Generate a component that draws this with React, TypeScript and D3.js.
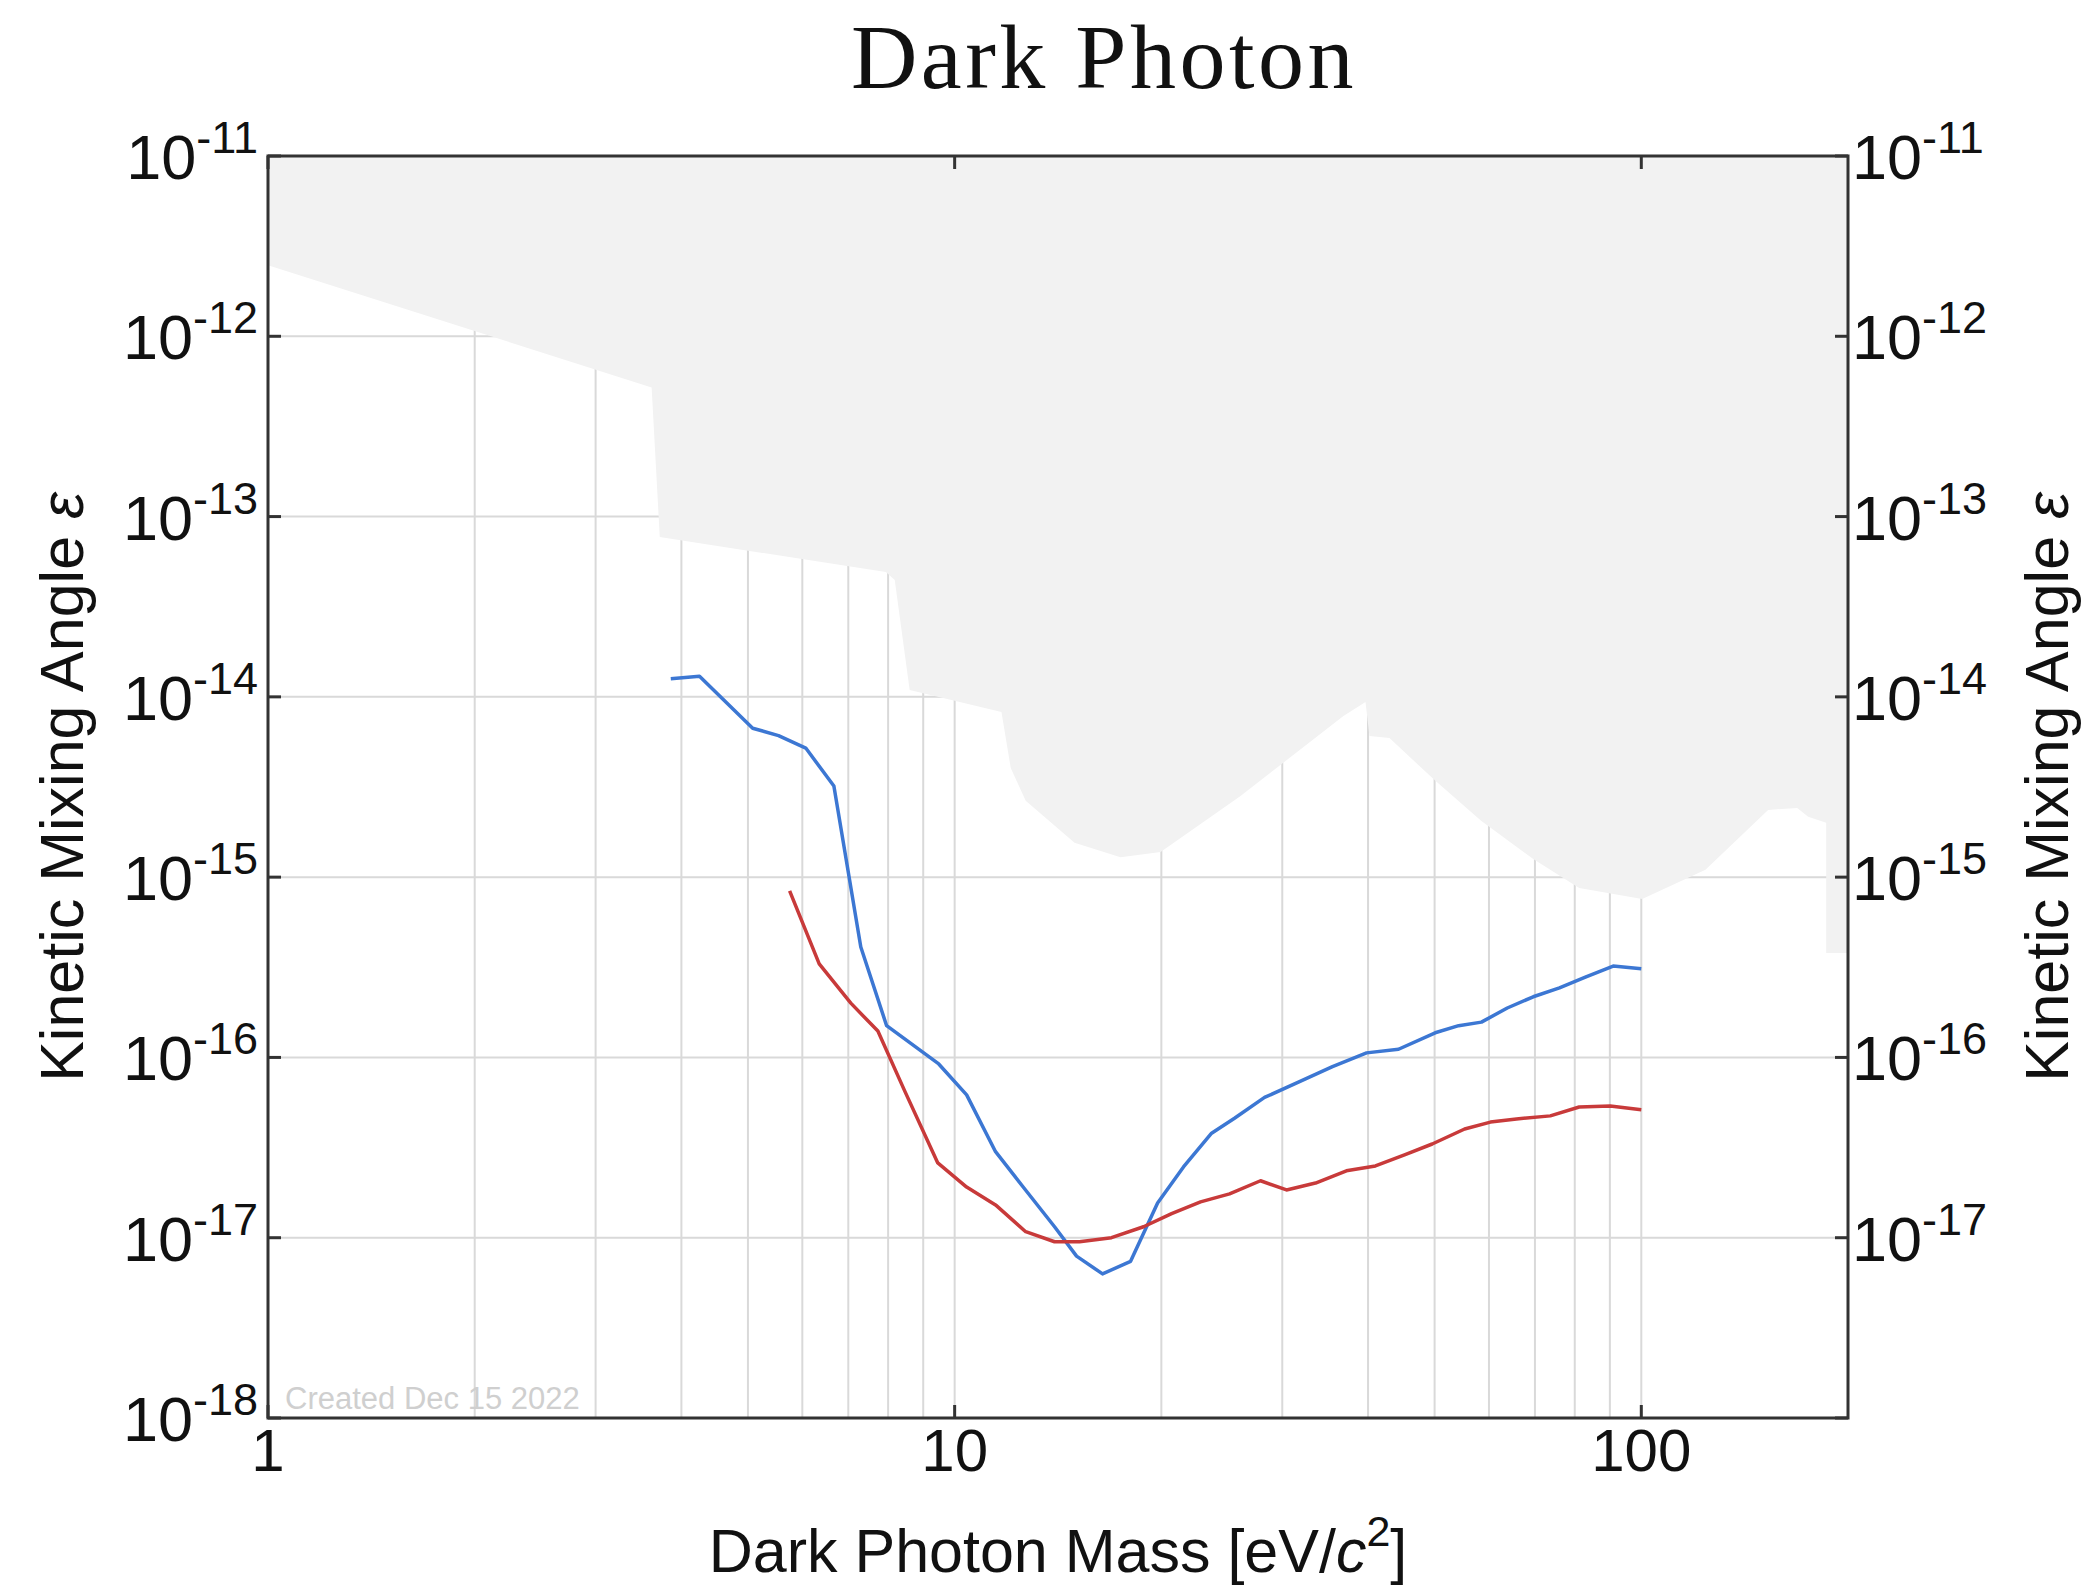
import React from 'react';
import * as d3 from 'd3';

// Excluded region (upper boundary of the shaded area), mass in eV/c^2
const excludedMass = [1, 3.62, 3.72, 7.94, 8.18, 8.6, 11.7, 12.07, 12.69, 14.95, 17.44, 19.95, 26.08, 36.83, 39.66, 40.19, 42.98, 50.13, 58.5, 69.6, 81.2, 100.3, 124, 153, 168.7, 175, 185.9, 185.9, 200];
const excludedEps = [2.48e-12, 5.2e-13, 7.7e-14, 4.93e-14, 4.45e-14, 1.09e-14, 8.24e-15, 4.03e-15, 2.65e-15, 1.55e-15, 1.29e-15, 1.38e-15, 2.82e-15, 7.83e-15, 9.37e-15, 6.07e-15, 5.91e-15, 3.42e-15, 2.05e-15, 1.26e-15, 8.71e-16, 7.57e-16, 1.1e-15, 2.36e-15, 2.42e-15, 2.16e-15, 2.0e-15, 3.8e-16, 3.8e-16];

// Blue sensitivity curve
const blueMass = [3.86, 4.25, 5.08, 5.54, 6.07, 6.67, 7.3, 7.96, 9.48, 10.41, 11.47, 12.6, 13.98, 15.05, 16.42, 18.04, 19.75, 21.54, 23.67, 25.56, 28.27, 31.67, 35.5, 39.8, 44.3, 50.1, 54.2, 58.5, 63.8, 69.6, 76.0, 82.9, 91.0, 100];
const blueEps = [1.26e-14, 1.3e-14, 6.7e-15, 6.1e-15, 5.2e-15, 3.2e-15, 4.1e-16, 1.5e-16, 9.2e-17, 6.2e-17, 3.0e-17, 1.9e-17, 1.15e-17, 7.9e-18, 6.3e-18, 7.4e-18, 1.56e-17, 2.47e-17, 3.8e-17, 4.6e-17, 6.0e-17, 7.3e-17, 8.9e-17, 1.06e-16, 1.11e-16, 1.37e-16, 1.5e-16, 1.57e-16, 1.88e-16, 2.17e-16, 2.43e-16, 2.79e-16, 3.21e-16, 3.1e-16];

// Red sensitivity curve
const redMass = [5.75, 6.35, 7.06, 7.73, 8.46, 9.45, 10.41, 11.47, 12.69, 13.98, 15.2, 16.92, 18.84, 20.7, 22.81, 25.14, 27.89, 30.43, 33.54, 37.2, 41.0, 45.2, 49.6, 55.3, 60.3, 65.8, 73.7, 81.2, 90.1, 100];
const redEps = [8.4e-16, 3.3e-16, 2.0e-16, 1.4e-16, 6.5e-17, 2.6e-17, 1.91e-17, 1.52e-17, 1.08e-17, 9.5e-18, 9.5e-18, 1.0e-17, 1.15e-17, 1.36e-17, 1.58e-17, 1.75e-17, 2.07e-17, 1.84e-17, 2.01e-17, 2.35e-17, 2.5e-17, 2.88e-17, 3.31e-17, 4.01e-17, 4.38e-17, 4.56e-17, 4.74e-17, 5.31e-17, 5.38e-17, 5.12e-17];

const xTickValues = [1, 10, 100];
const yTickValues = [1e-11, 1e-12, 1e-13, 1e-14, 1e-15, 1e-16, 1e-17, 1e-18];
const rightYTickValues = [1e-11, 1e-12, 1e-13, 1e-14, 1e-15, 1e-16, 1e-17];
const xGridValues = [2, 3, 4, 5, 6, 7, 8, 9, 10, 20, 30, 40, 50, 60, 70, 80, 90, 100];
const yGridValues = [1e-12, 1e-13, 1e-14, 1e-15, 1e-16, 1e-17];

const W = 2086;
const H = 1585;
const plot = { left: 268, right: 1848, top: 156, bottom: 1418 };

const SANS = '"Liberation Sans", Arial, Helvetica, sans-serif';

export default function App() {
  const x = d3.scaleLog().domain([1, 200]).range([plot.left, plot.right]);
  const y = d3.scaleLog().domain([1e-18, 1e-11]).range([plot.bottom, plot.top]);

  const line = d3
    .line<[number, number]>()
    .x((d) => x(d[0]))
    .y((d) => y(d[1]));

  const blue: [number, number][] = blueMass.map((m, i) => [m, blueEps[i]]);
  const red: [number, number][] = redMass.map((m, i) => [m, redEps[i]]);

  const excluded: [number, number][] = excludedMass.map((m, i) => [m, excludedEps[i]]);
  excluded.push([200, 1e-11], [1, 1e-11]);
  const areaPath = line(excluded) + 'Z';

  const tickLen = 13;
  const expOf = (v: number) => Math.round(Math.log10(v));

  return (
    <svg
      width={W}
      height={H}
      viewBox={`0 0 ${W} ${H}`}
      style={{ position: 'absolute', left: 0, top: 0, background: '#fff' }}
    >
      {/* grid */}
      <g stroke="#d9d9d9" strokeWidth={2}>
        {xGridValues.map((v) => (
          <line key={'gx' + v} x1={x(v)} x2={x(v)} y1={plot.top} y2={plot.bottom} />
        ))}
        {yGridValues.map((v) => (
          <line key={'gy' + v} x1={plot.left} x2={plot.right} y1={y(v)} y2={y(v)} />
        ))}
      </g>

      {/* excluded region */}
      <path d={areaPath} fill="#f2f2f2" stroke="none" />

      {/* watermark */}
      <text x={285} y={1409} fontFamily={SANS} fontSize={31} fill="#cfcfcf">
        Created Dec 15 2022
      </text>

      {/* curves */}
      <path d={line(blue) || ''} fill="none" stroke="#3c77d3" strokeWidth={3.5} strokeLinejoin="round" />
      <path d={line(red) || ''} fill="none" stroke="#c83a3a" strokeWidth={3.5} strokeLinejoin="round" />

      {/* ticks */}
      <g stroke="#333" strokeWidth={3}>
        {xTickValues.map((v) => (
          <g key={'tx' + v}>
            <line x1={x(v)} x2={x(v)} y1={plot.bottom} y2={plot.bottom - tickLen} />
            <line x1={x(v)} x2={x(v)} y1={plot.top} y2={plot.top + tickLen} />
          </g>
        ))}
        {yTickValues.map((v) => (
          <g key={'ty' + v}>
            <line x1={plot.left} x2={plot.left + tickLen} y1={y(v)} y2={y(v)} />
            <line x1={plot.right} x2={plot.right - tickLen} y1={y(v)} y2={y(v)} />
          </g>
        ))}
      </g>

      {/* frame */}
      <rect
        x={plot.left}
        y={plot.top}
        width={plot.right - plot.left}
        height={plot.bottom - plot.top}
        fill="none"
        stroke="#333"
        strokeWidth={3}
      />

      {/* x tick labels */}
      <g fontFamily={SANS} fontSize={60} fill="#111" textAnchor="middle">
        {xTickValues.map((v) => (
          <text key={'lx' + v} x={x(v)} y={1471}>
            {String(v)}
          </text>
        ))}
      </g>

      {/* left y tick labels */}
      <g fontFamily={SANS} fontSize={63} fill="#111" textAnchor="end">
        {yTickValues.map((v) => (
          <text key={'ly' + v} x={258} y={y(v) + 23}>
            10
            <tspan dy={-26} fontSize={45}>
              {'-' + Math.abs(expOf(v))}
            </tspan>
          </text>
        ))}
      </g>

      {/* right y tick labels */}
      <g fontFamily={SANS} fontSize={63} fill="#111" textAnchor="start">
        {rightYTickValues.map((v) => (
          <text key={'ry' + v} x={1852} y={y(v) + 23}>
            10
            <tspan dy={-26} fontSize={45}>
              {'-' + Math.abs(expOf(v))}
            </tspan>
          </text>
        ))}
      </g>

      {/* axis titles */}
      <text
        x={(plot.left + plot.right) / 2}
        y={1572}
        textAnchor="middle"
        fontFamily={SANS}
        fontSize={61}
        fill="#111"
      >
        Dark Photon Mass [eV/<tspan fontStyle="italic">c</tspan>
        <tspan dy={-26} fontSize={43}>2</tspan>
        <tspan dy={26}>]</tspan>
      </text>
      <text
        transform={`translate(83, ${(plot.top + plot.bottom) / 2}) rotate(-90)`}
        textAnchor="middle"
        fontFamily={SANS}
        fontSize={61}
        fill="#111"
      >
        Kinetic Mixing Angle <tspan fontStyle="italic">ε</tspan>
      </text>
      <text
        transform={`translate(2068, ${(plot.top + plot.bottom) / 2}) rotate(-90)`}
        textAnchor="middle"
        fontFamily={SANS}
        fontSize={61}
        fill="#111"
      >
        Kinetic Mixing Angle <tspan fontStyle="italic">ε</tspan>
      </text>

      {/* title */}
      <text
        x={1104}
        y={88}
        textAnchor="middle"
        fontFamily={'"Liberation Serif", "Times New Roman", serif'}
        fontSize={92}
        letterSpacing={3.5}
        fill="#111"
      >
        Dark Photon
      </text>
    </svg>
  );
}
